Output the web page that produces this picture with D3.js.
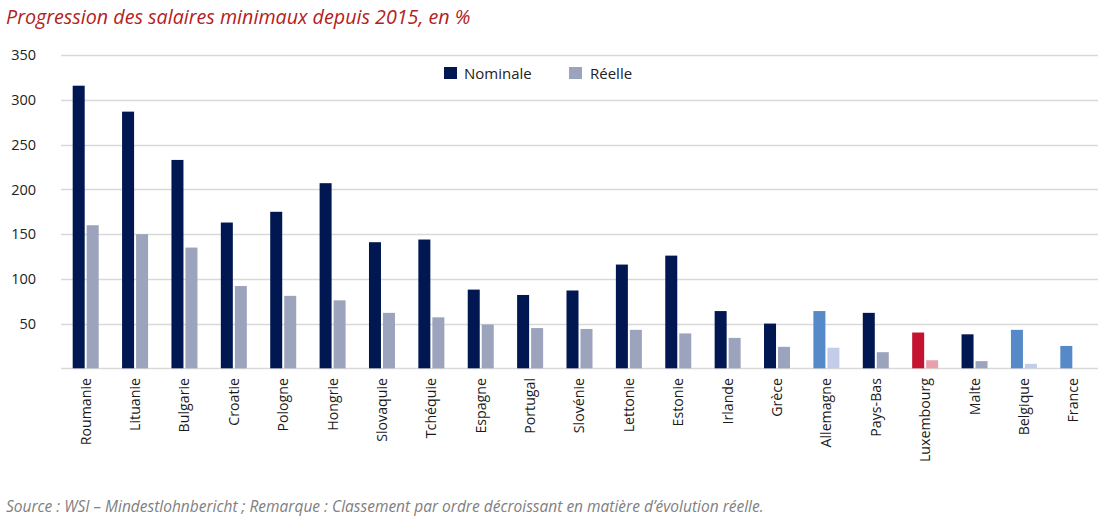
<!DOCTYPE html>
<html>
<head>
<meta charset="utf-8">
<script src="https://cdn.jsdelivr.net/npm/d3@7"></script>
<style>
  body { margin: 0; background: #fff; }
  text { font-family: "Open Sans", sans-serif; }
</style>
</head>
<body>
<script>
"use strict";
let countries = ["Roumanie", "Lituanie", "Bulgarie", "Croatie", "Pologne", "Hongrie", "Slovaquie",
                 "Tchéquie", "Espagne", "Portugal", "Slovénie", "Lettonie", "Estonie", "Irlande",
                 "Grèce", "Allemagne", "Pays-Bas", "Luxembourg", "Malte", "Belgique", "France"]
let nominale = [316, 287, 233, 163, 175, 207, 141, 144, 88, 82, 87, 116, 126, 64, 50, 64, 62, 40, 38, 43, 25]
let reelle   = [160, 150, 135, 92, 81, 76, 62, 57, 49, 45, 44, 43, 39, 34, 24, 23, 18, 9, 8, 5, 0]
let series = ["Nominale", "Réelle"]
let yTicks = [50, 100, 150, 200, 250, 300, 350]

// highlighted countries
let blueOnes = ["Allemagne", "Belgique", "France"]
let redOnes = ["Luxembourg"]

function colour(country, s) {
    if (blueOnes.includes(country)) return s === 0 ? "#5589c8" : "#c3cdea"
    if (redOnes.includes(country)) return s === 0 ? "#c41230" : "#e8a0ad"
    return s === 0 ? "#001752" : "#9ca3bc"
}

let svg = d3.select("body")
            .append("svg")
            .attr("width", 1111)
            .attr("height", 525)

let x0 = d3.scaleBand().domain(countries).range([61, 1098])
let x1 = d3.scaleBand().domain(d3.range(series.length)).range([0, 26]).paddingInner(0.143)
let y = d3.scaleLinear().domain([0, 350]).range([368.3, 55.3])

// grid
svg.append("g")
   .selectAll("line")
   .data([0].concat(yTicks))
   .enter()
   .append("line")
   .attr("x1", 61)
   .attr("x2", 1098)
   .attr("y1", d => Math.round(y(d)) + 0.5)
   .attr("y2", d => Math.round(y(d)) + 0.5)
   .attr("stroke", "#d9d9d9")
   .attr("stroke-width", 1.3)

// y axis labels
let yAxis = svg.append("g")
   .attr("transform", "translate(36,0)")
   .call(d3.axisLeft(y).tickValues(yTicks).tickSize(0).tickPadding(0))
yAxis.select(".domain").remove()
yAxis.selectAll("text")
     .attr("font-size", 14.5)
     .attr("fill", "#222")
     .attr("font-family", "Open Sans, sans-serif")

// bars
let groups = svg.append("g")
   .selectAll("g")
   .data(countries)
   .enter()
   .append("g")
   .attr("transform", d => "translate(" + (x0(d) + (x0.bandwidth() - 26) / 2) + ",0)")

groups.selectAll("rect")
   .data((d, i) => [nominale[i], reelle[i]].map((v, s) => ({country: d, s: s, v: v})))
   .enter()
   .append("rect")
   .attr("x", d => x1(d.s))
   .attr("width", x1.bandwidth())
   .attr("y", d => y(d.v))
   .attr("height", d => y(0) - y(d.v))
   .attr("fill", d => colour(d.country, d.s))

// x axis labels
let xAxis = svg.append("g")
   .attr("transform", "translate(0,369)")
   .call(d3.axisBottom(x0).tickSize(0).tickPadding(0))
xAxis.select(".domain").remove()
xAxis.selectAll("text")
     .attr("transform", "rotate(-90)")
     .attr("text-anchor", "end")
     .attr("x", -9)
     .attr("y", 0)
     .attr("dy", "0.35em")
     .attr("font-size", 14.2)
     .attr("fill", "#1a1a1a")
     .attr("font-family", "Open Sans, sans-serif")

// legend
let legend = svg.append("g")
legend.selectAll("rect")
   .data(series)
   .enter()
   .append("rect")
   .attr("x", (d, i) => 444 + i * 125)
   .attr("y", 67)
   .attr("width", 13)
   .attr("height", 12)
   .attr("fill", (d, i) => colour("", i))
legend.selectAll("text")
   .data(series)
   .enter()
   .append("text")
   .attr("x", (d, i) => 464 + i * 126)
   .attr("y", 78.5)
   .attr("font-size", 15)
   .attr("fill", "#222")
   .text(d => d)

// title + source
svg.append("text")
   .attr("x", 6)
   .attr("y", 24)
   .attr("font-size", 19.7)
   .attr("font-style", "italic")
   .attr("fill", "#b3211d")
   .text("Progression des salaires minimaux depuis 2015, en %")

svg.append("text")
   .attr("x", 6)
   .attr("y", 512)
   .attr("font-size", 15.5)
   .attr("font-style", "italic")
   .attr("fill", "#808080")
   .text("Source : WSI – Mindestlohnbericht ; Remarque : Classement par ordre décroissant en matière d’évolution réelle.")
</script>
</body>
</html>
